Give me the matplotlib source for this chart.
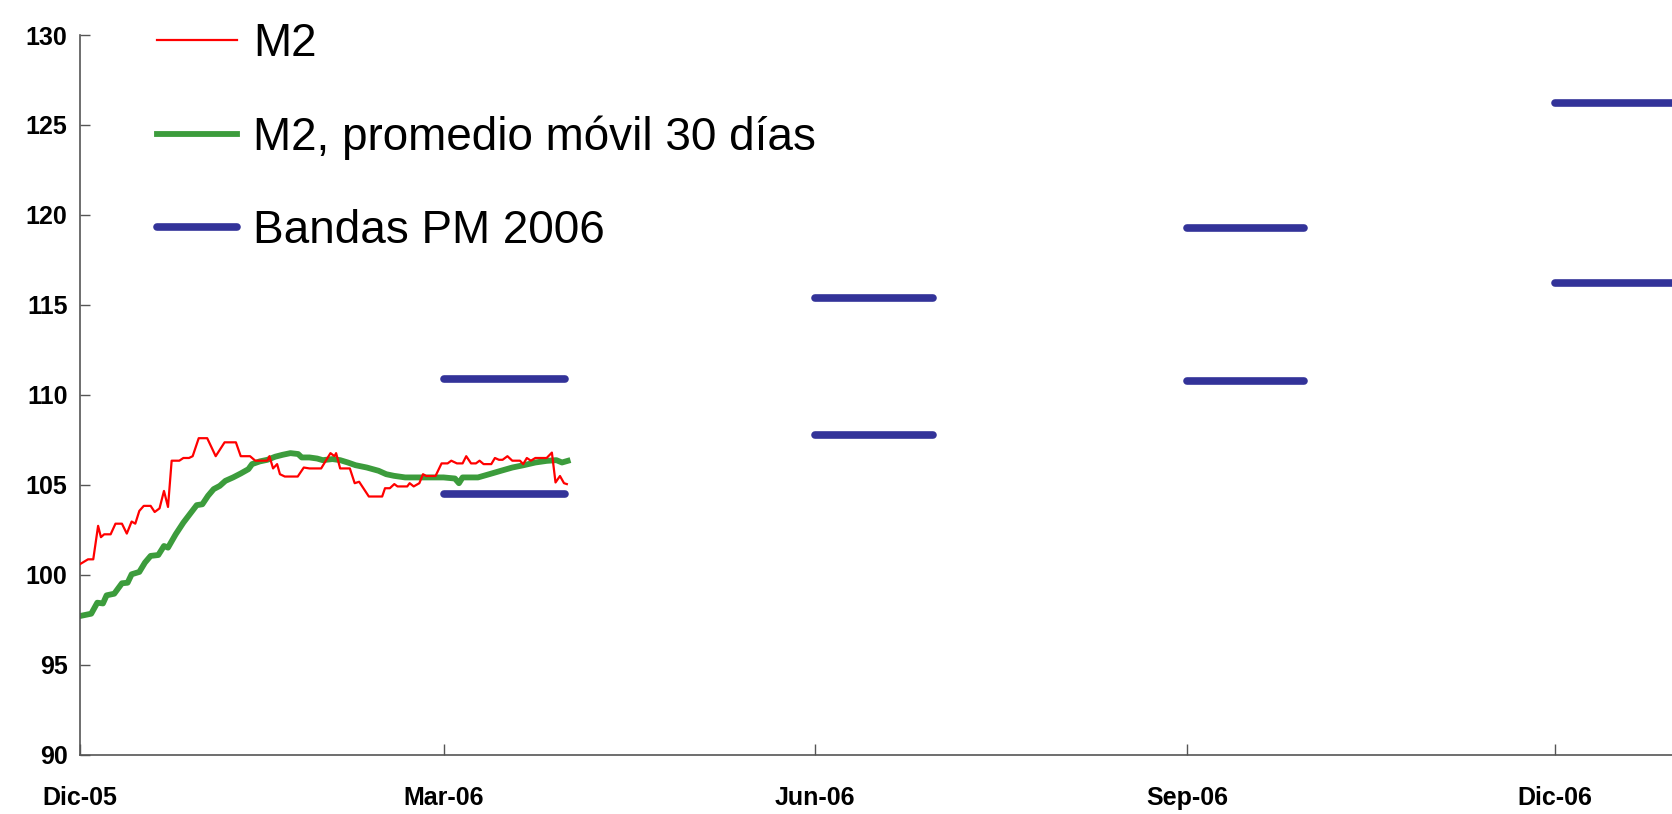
import matplotlib
matplotlib.use("Agg")
import matplotlib.pyplot as plt
import pandas as pd

# M2 diario (indice), dias contados desde 01-dic-2005
m2_days = [0, 2, 3.3, 4.5, 5.2, 6, 7.6, 8.8, 10.4, 11.6, 12.8, 13.7, 14.7, 15.8,
           17.5, 18.5, 19.7, 20.8, 21.8, 22.7, 24.6, 25.6, 27, 27.9, 29.4, 31.5,
           33.6, 35.8, 38.6, 39.8, 42.1, 43.4, 46.4, 46.9, 47.8, 48.8, 49.5, 50.7,
           53.9, 55.4, 56.8, 59.7, 62, 63, 63.4, 64.4, 66.8, 68, 69.1, 71.5, 74.8,
           75.5, 76.7, 77.8, 78.6, 81, 81.6, 82.6, 84, 84.9, 85.7, 88, 89.5, 91,
           91.9, 93.3, 94.7, 95.6, 96.8, 98, 98.9, 99.9, 101.8, 102.7, 103.7,
           104.6, 105.8, 107, 108.9, 109.7, 110.6, 111.6, 112.7, 115.5, 116.8,
           117.7, 118.8, 119.8, 120.5]
m2_values = [100.6, 100.87, 100.87, 102.73, 102.1, 102.26, 102.26, 102.85,
             102.85, 102.3, 102.97, 102.85, 103.56, 103.84, 103.84, 103.5, 103.7,
             104.67, 103.78, 106.35, 106.35, 106.5, 106.5, 106.6, 107.6, 107.6,
             106.6, 107.37, 107.37, 106.6, 106.6, 106.35, 106.35, 106.6, 105.92,
             106.16, 105.6, 105.47, 105.47, 105.97, 105.92, 105.92, 106.77, 106.6,
             106.77, 105.92, 105.92, 105.1, 105.18, 104.36, 104.36, 104.82,
             104.82, 105.05, 104.92, 104.92, 105.1, 104.92, 105.1, 105.6, 105.5,
             105.5, 106.2, 106.2, 106.35, 106.2, 106.2, 106.6, 106.2, 106.2,
             106.35, 106.16, 106.16, 106.5, 106.4, 106.4, 106.6, 106.35, 106.35,
             106.16, 106.5, 106.35, 106.5, 106.5, 106.8, 105.14, 105.5, 105.1,
             105.05]

# M2, promedio movil 30 dias
ma_days = [0, 2.8, 4.3, 5.7, 6.6, 8.5, 10.4, 11.8, 12.8, 14.7, 16.1, 17.5, 19.4,
           20.8, 21.8, 23.7, 25.6, 27.5, 28.9, 30.3, 31.7, 33.1, 34.6, 36, 37.9,
           39.8, 41.7, 42.6, 44.5, 46.4, 48.3, 50.2, 52.1, 54, 54.9, 56.8, 58.7,
           60.1, 62.5, 64.4, 66.3, 68.2, 71, 73.9, 75.8, 77.7, 80.5, 83.3, 86.2,
           90, 92.8, 93.8, 94.7, 98.5, 101.3, 104.2, 107, 109.8, 112.7, 115.5,
           117.9, 119.3, 120.7]
ma_values = [97.72, 97.85, 98.46, 98.42, 98.87, 98.96, 99.54, 99.57, 100.04,
             100.17, 100.69, 101.06, 101.11, 101.61, 101.52, 102.26, 102.91,
             103.47, 103.88, 103.93, 104.4, 104.77, 104.95, 105.23, 105.42,
             105.64, 105.88, 106.16, 106.31, 106.4, 106.57, 106.68, 106.77,
             106.72, 106.53, 106.53, 106.47, 106.38, 106.44, 106.38, 106.25,
             106.1, 105.97, 105.79, 105.6, 105.51, 105.42, 105.42, 105.42, 105.42,
             105.36, 105.1, 105.42, 105.42, 105.6, 105.79, 105.97, 106.1, 106.25,
             106.34, 106.38, 106.25, 106.34]

# Bandas del programa monetario 2006
band_start = ["2006-03-01", "2006-06-01", "2006-09-01", "2006-12-01"]
band_end = ["2006-03-31", "2006-06-30", "2006-09-30", "2006-12-31"]
band_upper = [110.9, 115.4, 119.3, 126.2]
band_lower = [104.5, 107.8, 110.8, 116.2]

tick_dates = ["2005-12-01", "2006-03-01", "2006-06-01", "2006-09-01", "2006-12-01"]
tick_labels = ["Dic-05", "Mar-06", "Jun-06", "Sep-06", "Dic-06"]

plt.rcParams["font.family"] = ["Liberation Sans", "DejaVu Sans"]

start = pd.Timestamp("2005-12-01")
m2_x = [start + pd.Timedelta(days=d) for d in m2_days]
ma_x = [start + pd.Timedelta(days=d) for d in ma_days]

fig = plt.figure(figsize=(16.72, 8.14), dpi=100)
ax = fig.add_axes([0.0478, 0.0725, 0.9522, 0.8845])

ax.plot(m2_x, m2_values, color="#ff0000", lw=1.6, label="M2", zorder=3)
ax.plot(ma_x, ma_values, color="#3c9c3c", lw=4.2, label="M2, promedio móvil 30 días",
        zorder=2)
for i in range(len(band_start)):
    xs = [pd.Timestamp(band_start[i]), pd.Timestamp(band_end[i])]
    ax.plot(xs, [band_upper[i]] * 2, color="#333399", lw=5.5,
            solid_capstyle="round", zorder=4,
            label="Bandas PM 2006" if i == 0 else None)
    ax.plot(xs, [band_lower[i]] * 2, color="#333399", lw=5.5,
            solid_capstyle="round", zorder=4)

ax.set_ylim(90, 130)
ax.set_xlim(start, pd.Timestamp("2006-12-30"))
ax.set_yticks(range(90, 131, 5))
ax.set_xticks(pd.to_datetime(tick_dates))
ax.set_xticklabels(tick_labels)

for s in ["top", "right"]:
    ax.spines[s].set_visible(False)
for s in ["left", "bottom"]:
    ax.spines[s].set_color("#555555")
    ax.spines[s].set_linewidth(1.2)

ax.tick_params(axis="y", direction="in", length=7, width=1, color="#555555",
               pad=9, labelsize=18)
ax.tick_params(axis="x", direction="in", length=8, width=1, color="#555555",
               pad=22, labelsize=18)
for lab in ax.get_xticklabels() + ax.get_yticklabels():
    lab.set_fontweight("bold")

ax.legend(loc="upper left", bbox_to_anchor=(0.091, 0.978), bbox_transform=fig.transFigure,
          frameon=False, fontsize=33, handlelength=1.75, handletextpad=0.35,
          labelspacing=1.07, borderpad=0.1, borderaxespad=0)

plt.savefig("out.png", dpi=100)
